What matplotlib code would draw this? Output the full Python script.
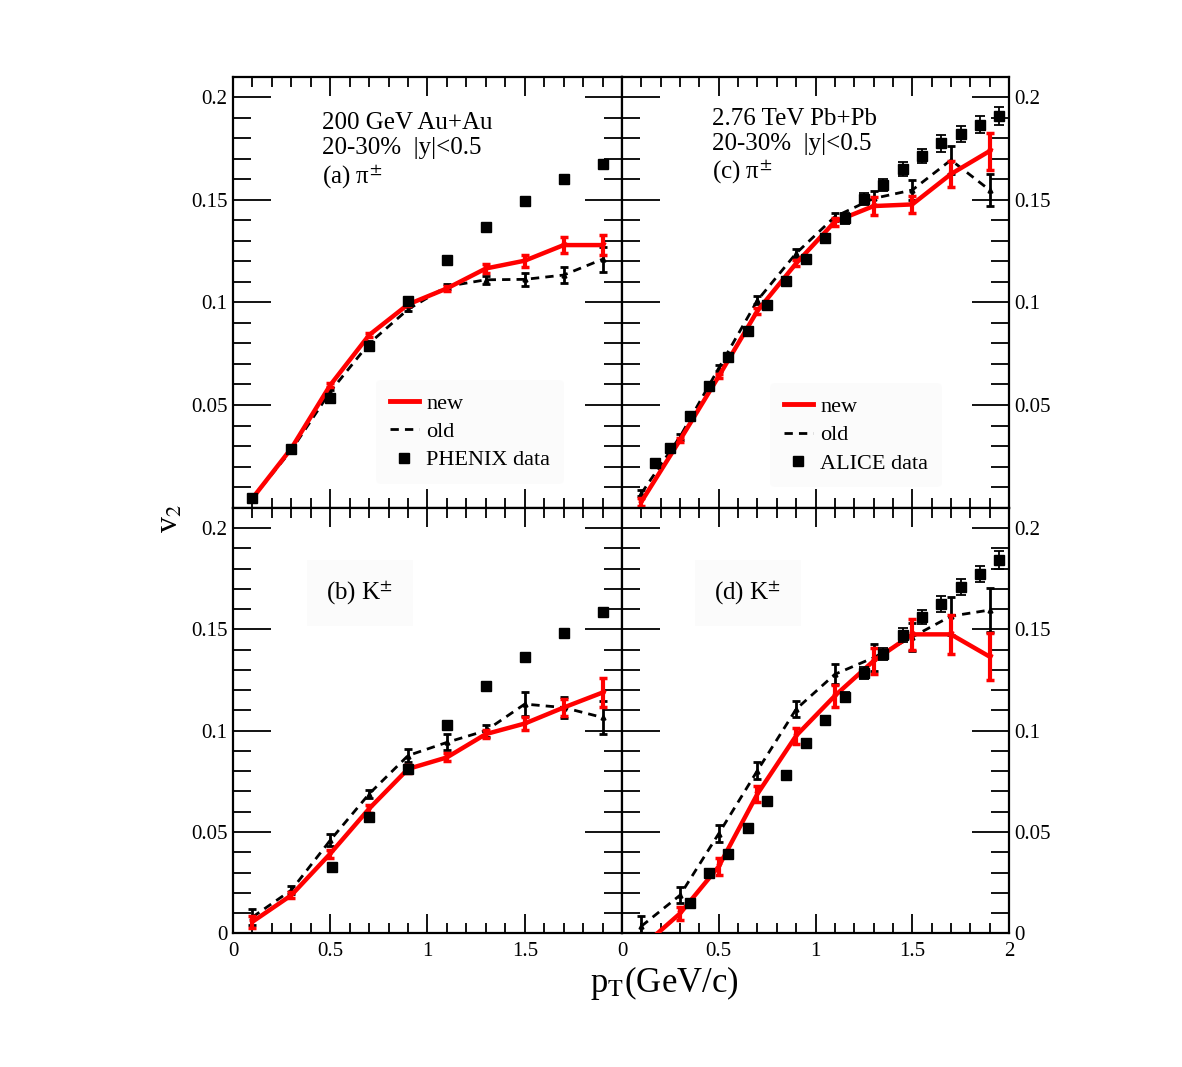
import numpy as np
import matplotlib
matplotlib.use("Agg")
import matplotlib.pyplot as plt
from matplotlib.ticker import MultipleLocator, FuncFormatter
from matplotlib.lines import Line2D

plt.rcParams['font.family'] = ['Liberation Serif', 'DejaVu Serif']
plt.rcParams['mathtext.fontset'] = 'stix'

# ---------------- data ----------------
pt_model = [0.1, 0.3, 0.5, 0.7, 0.9, 1.1, 1.3, 1.5, 1.7, 1.9]

# (a) pions, 200 GeV Au+Au
a_new = [0.0046, 0.0289, 0.0597, 0.0841, 0.0990, 0.1068, 0.1165, 0.1203, 0.1279, 0.1279]
a_new_err = [0.0005, 0.0008, 0.001, 0.001, 0.001, 0.0012, 0.002, 0.003, 0.004, 0.005]
a_old = [0.0046, 0.0280, 0.0565, 0.0800, 0.0966, 0.1078, 0.1110, 0.1112, 0.1133, 0.1210]
a_old_err = [0.0005, 0.0008, 0.001, 0.001, 0.001, 0.0012, 0.002, 0.003, 0.004, 0.006]
phenix_pi_pt = [0.1, 0.3, 0.5, 0.7, 0.9, 1.1, 1.3, 1.5, 1.7, 1.9]
phenix_pi_v2 = [0.0046, 0.0285, 0.0536, 0.0787, 0.1008, 0.1206, 0.1368, 0.1495, 0.1600, 0.1673]

# (b) kaons, 200 GeV Au+Au
b_new = [0.0057, 0.0188, 0.0393, 0.0615, 0.0811, 0.0868, 0.0983, 0.1035, 0.1114, 0.1188]
b_new_err = [0.003, 0.0015, 0.002, 0.002, 0.002, 0.002, 0.002, 0.003, 0.004, 0.007]
b_old = [0.008, 0.0213, 0.0459, 0.0688, 0.0877, 0.0942, 0.1000, 0.1131, 0.1114, 0.1065]
b_old_err = [0.004, 0.002, 0.003, 0.002, 0.003, 0.004, 0.003, 0.006, 0.005, 0.008]
phenix_k_pt = [0.51, 0.7, 0.9, 1.1, 1.3, 1.5, 1.7, 1.9]
phenix_k_v2 = [0.0328, 0.0573, 0.0811, 0.1028, 0.1218, 0.1365, 0.1483, 0.1585]

# (c) pions, 2.76 TeV Pb+Pb
c_new = [0.0029, 0.0330, 0.0640, 0.0959, 0.1190, 0.1393, 0.1469, 0.1477, 0.1625, 0.1737]
c_new_err = [0.002, 0.001, 0.001, 0.0015, 0.0015, 0.002, 0.0043, 0.0043, 0.0063, 0.009]
c_old = [0.0070, 0.0346, 0.0680, 0.1010, 0.1239, 0.1417, 0.1506, 0.1547, 0.1693, 0.1547]
c_old_err = [0.0015, 0.0015, 0.0015, 0.002, 0.002, 0.002, 0.0035, 0.005, 0.007, 0.008]
alice_pi_pt = [0.17, 0.25, 0.35, 0.45, 0.55, 0.65, 0.75, 0.85, 0.95, 1.05,
               1.15, 1.25, 1.35, 1.45, 1.55, 1.65, 1.75, 1.85, 1.95]
alice_pi_v2 = [0.0219, 0.0292, 0.0445, 0.0593, 0.0735, 0.0862, 0.0987, 0.1104, 0.1211, 0.1312,
               0.1409, 0.1502, 0.1571, 0.1650, 0.1714, 0.1774, 0.1820, 0.1866, 0.1907]
alice_pi_err = [0.0015, 0.0015, 0.0015, 0.0015, 0.0015, 0.002, 0.002, 0.002, 0.002, 0.002,
                0.0025, 0.003, 0.003, 0.0035, 0.0035, 0.004, 0.004, 0.004, 0.0045]

# (d) kaons, 2.76 TeV Pb+Pb
d_new = [-0.007, 0.0098, 0.0330, 0.0688, 0.0975, 0.1172, 0.1344, 0.1475, 0.1475, 0.1365]
d_new_err = [0.003, 0.003, 0.004, 0.004, 0.004, 0.0054, 0.0065, 0.0078, 0.0098, 0.0115]
d_old = [0.0035, 0.0188, 0.0492, 0.0803, 0.1106, 0.1278, 0.1360, 0.1462, 0.1565, 0.1595]
d_old_err = [0.005, 0.004, 0.004, 0.004, 0.004, 0.005, 0.0068, 0.007, 0.0092, 0.011]
alice_k_pt = [0.35, 0.45, 0.55, 0.65, 0.75, 0.85, 0.95, 1.05, 1.15,
              1.25, 1.35, 1.45, 1.55, 1.65, 1.75, 1.85, 1.95]
alice_k_v2 = [0.0150, 0.0297, 0.0393, 0.0522, 0.0655, 0.0783, 0.0937, 0.1054, 0.1168,
              0.1286, 0.1380, 0.1471, 0.1560, 0.1625, 0.1709, 0.1773, 0.1843]
alice_k_err = [0.0015, 0.0015, 0.0015, 0.0015, 0.0015, 0.002, 0.002, 0.002, 0.0025,
               0.003, 0.003, 0.0035, 0.0035, 0.004, 0.004, 0.004, 0.0045]

# ---------------- figure ----------------
fig = plt.figure(figsize=(11.82, 10.67), dpi=100)
x0, xm, x1 = 233 / 1182, 622 / 1182, 1009 / 1182
y1, ym, y0 = 1 - 76.5 / 1067, 1 - 507.7 / 1067, 1 - 933.3 / 1067
ax_a = fig.add_axes([x0, ym, xm - x0, y1 - ym])
ax_c = fig.add_axes([xm, ym, x1 - xm, y1 - ym])
ax_b = fig.add_axes([x0, y0, xm - x0, ym - y0])
ax_d = fig.add_axes([xm, y0, x1 - xm, ym - y0])


def fmt(v, pos):
    return '%g' % round(v, 3)


def style(ax, show_x, left_labels, hide_zero, hide_two):
    ax.set_xlim(0, 2)
    ax.set_ylim(0, 0.21)
    ax.xaxis.set_major_locator(MultipleLocator(0.5))
    ax.xaxis.set_minor_locator(MultipleLocator(0.1))
    ax.yaxis.set_major_locator(MultipleLocator(0.05))
    ax.yaxis.set_minor_locator(MultipleLocator(0.01))
    ax.tick_params(axis='both', which='both', direction='in', top=True, right=True,
                   labelsize=15, width=1.3, color='black')
    ax.tick_params(axis='x', which='major', length=14)
    ax.tick_params(axis='x', which='minor', length=7.5)
    ax.tick_params(axis='y', which='major', length=27)
    ax.tick_params(axis='y', which='minor', length=13)
    ax.tick_params(axis='x', labelbottom=show_x, pad=6)
    ax.tick_params(axis='y', labelleft=left_labels, labelright=not left_labels, pad=4)

    def yfmt(v, pos):
        if hide_zero and abs(v) < 1e-9:
            return ''
        return fmt(v, pos)

    def xfmt(v, pos):
        if hide_two and abs(v - 2) < 1e-9:
            return ''
        return fmt(v, pos)
    ax.yaxis.set_major_formatter(FuncFormatter(yfmt))
    ax.xaxis.set_major_formatter(FuncFormatter(xfmt))
    for s in ax.spines.values():
        s.set_linewidth(1.6)


style(ax_a, False, True, True, True)
style(ax_c, False, False, True, False)
style(ax_b, True, True, False, True)
style(ax_d, True, False, False, False)


def draw(ax, new, new_err, old, old_err, data_pt, data_v2, data_err):
    ax.errorbar(pt_model, old, yerr=old_err, color='black', ls=(0, (3, 2.2)), lw=2,
                elinewidth=2, capsize=3, capthick=2, marker='^', ms=3.5, zorder=3)
    ax.errorbar(pt_model, new, yerr=new_err, color='#ff0000', ls='-', lw=3.2,
                elinewidth=3, capsize=3, capthick=2.5, marker='v', ms=3.5, zorder=4)
    if data_err is None:
        ax.plot(data_pt, data_v2, 's', color='black', ms=7.5, zorder=5)
    else:
        ax.errorbar(data_pt, data_v2, yerr=data_err, fmt='s', color='black', ms=7.5,
                    elinewidth=1.3, capsize=3.5, capthick=1.3, zorder=5)


draw(ax_a, a_new, a_new_err, a_old, a_old_err, phenix_pi_pt, phenix_pi_v2, None)
draw(ax_b, b_new, b_new_err, b_old, b_old_err, phenix_k_pt, phenix_k_v2, None)
draw(ax_c, c_new, c_new_err, c_old, c_old_err, alice_pi_pt, alice_pi_v2, alice_pi_err)
draw(ax_d, d_new, d_new_err, d_old, d_old_err, alice_k_pt, alice_k_v2, alice_k_err)

# legends
for ax, anchor, data_label in [(ax_a, (0.34, 0.03), 'PHENIX data'), (ax_c, (0.355, 0.022), 'ALICE data')]:
    hh = [Line2D([], [], color='#ff0000', lw=3.5),
          Line2D([], [], color='black', lw=2, ls=(0, (3, 2.2))),
          Line2D([], [], color='black', marker='s', ls='none', ms=7.5)]
    leg = ax.legend(hh, ['new', 'old', data_label], loc='lower left', bbox_to_anchor=anchor,
                    fontsize=16, frameon=True, handlelength=1.3, handletextpad=0.35,
                    labelspacing=0.35, borderpad=0.6)
    leg.get_frame().set_facecolor('#fbfbfb')
    leg.get_frame().set_edgecolor('none')

# panel annotations
ax_a.text(0.229, 0.918, '200 GeV Au+Au\n20-30%  |y|<0.5\n(a) π$^{\\pm}$', transform=ax_a.transAxes,
          fontsize=18, va='top', ha='left', linespacing=1.2)
ax_c.text(0.233, 0.928, '2.76 TeV Pb+Pb\n20-30%  |y|<0.5\n(c) π$^{\\pm}$', transform=ax_c.transAxes,
          fontsize=18, va='top', ha='left', linespacing=1.2)
ax_b.text(0.24, 0.80, '(b) K$^{\\pm}$', transform=ax_b.transAxes, fontsize=18, va='center', ha='left',
          bbox=dict(facecolor='#fbfbfb', edgecolor='none', pad=14))
ax_d.text(0.238, 0.80, '(d) K$^{\\pm}$', transform=ax_d.transAxes, fontsize=18, va='center', ha='left',
          bbox=dict(facecolor='#fbfbfb', edgecolor='none', pad=14))

fig.text(590 / 1182, 1 - 983 / 1067, 'p$_{\\mathrm{T}}$(GeV/c)', fontsize=25, ha='left', va='center')
fig.text(170 / 1182, 1 - 518 / 1067, 'v$_{2}$', fontsize=23, rotation=90, ha='center', va='center')

fig.savefig('out.png', dpi=100)
